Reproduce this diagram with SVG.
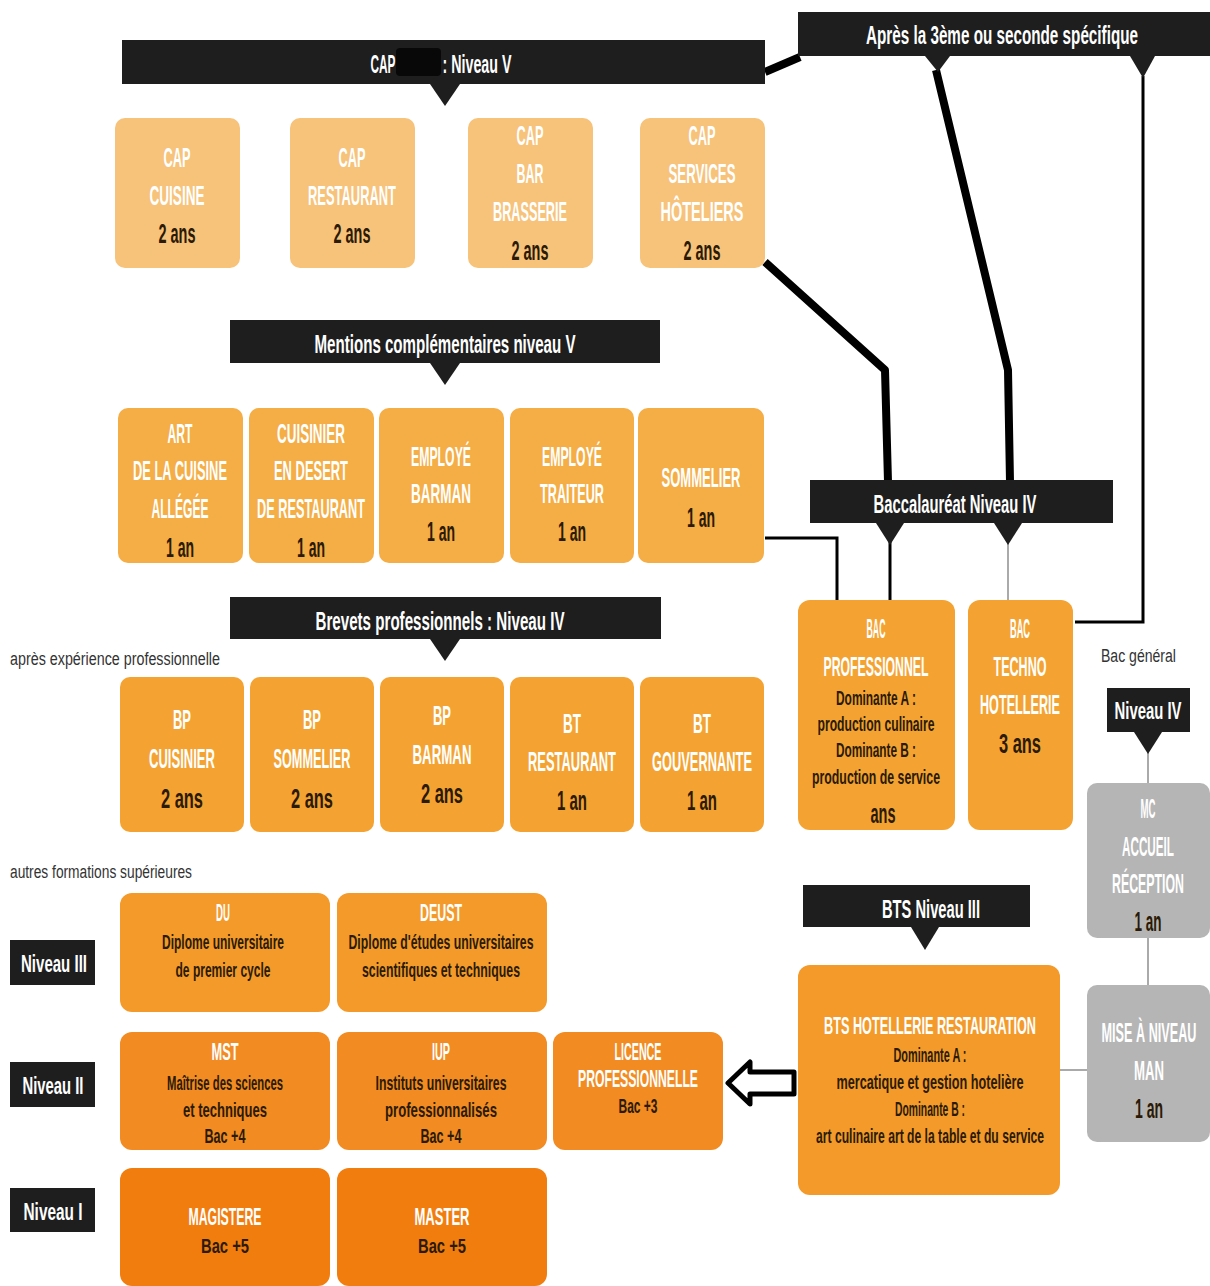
<svg xmlns="http://www.w3.org/2000/svg" width="1210" height="1286" viewBox="0 0 1210 1286">
<style>
text{font-family:"Liberation Sans",Arial,sans-serif;text-anchor:middle;font-weight:bold;}
.ban{fill:#1e1e1e}
.bt{fill:#ffffff;font-size:26px}
.nv{fill:#ffffff;font-size:23px}
.t{fill:#ffffff;font-size:28px}
.d{fill:#2b1a05;font-size:28px}
.s{fill:#2b1a05;font-size:21px}
.sw{fill:#ffffff;font-size:23px}
.note{fill:#333;font-size:18px;text-anchor:start;font-weight:normal}
.cap{fill:#f7c27a}
.mc{fill:#f5ad45}
.bp{fill:#f4a332}
.du{fill:#f39a2a}
.ms{fill:#f18b22}
.mg{fill:#f27d0f}
.gr{fill:#b5b5b5}
.thick{stroke:#000;stroke-width:8;fill:none;stroke-linejoin:round}
.thin{stroke:#000;stroke-width:3;fill:none}
.gl{stroke:#aaa;stroke-width:2;fill:none}
</style>

<g id="connectors">
  <path class="thick" d="M765 72 L800 57"/>
  <path class="thick" d="M936 70 L1008 370 L1010 482"/>
  <path class="thick" d="M765 262 L885 370 L888 482"/>
  <path class="thin" d="M1143 76 L1143 622 L1075 622"/>
  <path class="thin" d="M765 538 L837 538 L837 600"/>
  <path class="thin" d="M890 540 L890 600"/>
  <path class="gl" d="M1008 540 L1008 600"/>
  <path class="gl" d="M1148 750 L1148 784"/>
  <path class="gl" d="M1148 938 L1148 986"/>
  <path class="gl" d="M1060 1070 L1087 1070"/>
  <path d="M728 1083 L750 1062 L750 1072 L794 1072 L794 1094 L750 1094 L750 1104 Z" fill="#fff" stroke="#000" stroke-width="5" stroke-linejoin="round"/>
</g>

<g id="banner-cap">
  <rect class="ban" x="122" y="40" width="643" height="44"/>
  <path class="ban" d="M430 84 L460 84 L445 106 Z"/>
  <text class="bt" x="383" y="73" textLength="25" lengthAdjust="spacingAndGlyphs">CAP</text>
  <rect x="396" y="48" width="45" height="28" rx="4" fill="#080808"/>
  <text class="bt" x="477" y="73" textLength="69" lengthAdjust="spacingAndGlyphs">: Niveau V</text>
</g>
<g id="banner-apres">
  <rect class="ban" x="798" y="12" width="412" height="44"/>
  <path class="ban" d="M925 56 L950 56 L938 72 Z"/>
  <path class="ban" d="M1130 56 L1155 56 L1143 78 Z"/>
  <text class="bt" x="1002" y="44" textLength="272" lengthAdjust="spacingAndGlyphs">Après la 3ème ou seconde spécifique</text>
</g>

<g id="cap-cuisine"><rect class="cap" x="115" y="118" width="125" height="150" rx="10"/>
  <text class="t" x="177" y="167" textLength="27" lengthAdjust="spacingAndGlyphs">CAP</text>
  <text class="t" x="177" y="205" textLength="55" lengthAdjust="spacingAndGlyphs">CUISINE</text>
  <text class="d" x="177" y="243" textLength="37" lengthAdjust="spacingAndGlyphs">2 ans</text></g>
<g id="cap-restaurant"><rect class="cap" x="290" y="118" width="125" height="150" rx="10"/>
  <text class="t" x="352" y="167" textLength="27" lengthAdjust="spacingAndGlyphs">CAP</text>
  <text class="t" x="352" y="205" textLength="88" lengthAdjust="spacingAndGlyphs">RESTAURANT</text>
  <text class="d" x="352" y="243" textLength="37" lengthAdjust="spacingAndGlyphs">2 ans</text></g>
<g id="cap-bar"><rect class="cap" x="468" y="118" width="125" height="150" rx="10"/>
  <text class="t" x="530" y="145" textLength="27" lengthAdjust="spacingAndGlyphs">CAP</text>
  <text class="t" x="530" y="183" textLength="27" lengthAdjust="spacingAndGlyphs">BAR</text>
  <text class="t" x="530" y="221" textLength="74" lengthAdjust="spacingAndGlyphs">BRASSERIE</text>
  <text class="d" x="530" y="260" textLength="37" lengthAdjust="spacingAndGlyphs">2 ans</text></g>
<g id="cap-services"><rect class="cap" x="640" y="118" width="125" height="150" rx="10"/>
  <text class="t" x="702" y="145" textLength="27" lengthAdjust="spacingAndGlyphs">CAP</text>
  <text class="t" x="702" y="183" textLength="67" lengthAdjust="spacingAndGlyphs">SERVICES</text>
  <text class="t" x="702" y="221" textLength="83" lengthAdjust="spacingAndGlyphs">HÔTELIERS</text>
  <text class="d" x="702" y="260" textLength="37" lengthAdjust="spacingAndGlyphs">2 ans</text></g>

<g id="banner-mc">
  <rect class="ban" x="230" y="320" width="430" height="43"/>
  <path class="ban" d="M430 363 L460 363 L445 385 Z"/>
  <text class="bt" x="445" y="353" textLength="261" lengthAdjust="spacingAndGlyphs">Mentions complémentaires niveau V</text>
</g>
<g id="mc-art"><rect class="mc" x="118" y="408" width="125" height="155" rx="10"/>
  <text class="t" x="180" y="443" textLength="25" lengthAdjust="spacingAndGlyphs">ART</text>
  <text class="t" x="180" y="480" textLength="94" lengthAdjust="spacingAndGlyphs">DE LA CUISINE</text>
  <text class="t" x="180" y="518" textLength="57" lengthAdjust="spacingAndGlyphs">ALLÉGÉE</text>
  <text class="d" x="180" y="557" textLength="28" lengthAdjust="spacingAndGlyphs">1 an</text></g>
<g id="mc-cuisinier"><rect class="mc" x="249" y="408" width="125" height="155" rx="10"/>
  <text class="t" x="311" y="443" textLength="68" lengthAdjust="spacingAndGlyphs">CUISINIER</text>
  <text class="t" x="311" y="480" textLength="74" lengthAdjust="spacingAndGlyphs">EN DESERT</text>
  <text class="t" x="311" y="518" textLength="108" lengthAdjust="spacingAndGlyphs">DE RESTAURANT</text>
  <text class="d" x="311" y="557" textLength="28" lengthAdjust="spacingAndGlyphs">1 an</text></g>
<g id="mc-barman"><rect class="mc" x="379" y="408" width="125" height="155" rx="10"/>
  <text class="t" x="441" y="466" textLength="60" lengthAdjust="spacingAndGlyphs">EMPLOYÉ</text>
  <text class="t" x="441" y="503" textLength="60" lengthAdjust="spacingAndGlyphs">BARMAN</text>
  <text class="d" x="441" y="541" textLength="28" lengthAdjust="spacingAndGlyphs">1 an</text></g>
<g id="mc-traiteur"><rect class="mc" x="510" y="408" width="124" height="155" rx="10"/>
  <text class="t" x="572" y="466" textLength="60" lengthAdjust="spacingAndGlyphs">EMPLOYÉ</text>
  <text class="t" x="572" y="503" textLength="64" lengthAdjust="spacingAndGlyphs">TRAITEUR</text>
  <text class="d" x="572" y="541" textLength="28" lengthAdjust="spacingAndGlyphs">1 an</text></g>
<g id="mc-sommelier"><rect class="mc" x="638" y="408" width="126" height="155" rx="10"/>
  <text class="t" x="701" y="487" textLength="79" lengthAdjust="spacingAndGlyphs">SOMMELIER</text>
  <text class="d" x="701" y="527" textLength="28" lengthAdjust="spacingAndGlyphs">1 an</text></g>

<g id="banner-bp">
  <rect class="ban" x="230" y="597" width="431" height="42"/>
  <path class="ban" d="M430 639 L460 639 L445 661 Z"/>
  <text class="bt" x="440" y="630" textLength="249" lengthAdjust="spacingAndGlyphs">Brevets professionnels : Niveau IV</text>
</g>
<text class="note" x="10" y="665" textLength="210" lengthAdjust="spacingAndGlyphs">après expérience professionnelle</text>
<g id="bp-cuisinier"><rect class="bp" x="120" y="677" width="124" height="155" rx="10"/>
  <text class="t" x="182" y="729" textLength="18" lengthAdjust="spacingAndGlyphs">BP</text>
  <text class="t" x="182" y="768" textLength="66" lengthAdjust="spacingAndGlyphs">CUISINIER</text>
  <text class="d" x="182" y="808" textLength="42" lengthAdjust="spacingAndGlyphs">2 ans</text></g>
<g id="bp-sommelier"><rect class="bp" x="250" y="677" width="124" height="155" rx="10"/>
  <text class="t" x="312" y="729" textLength="18" lengthAdjust="spacingAndGlyphs">BP</text>
  <text class="t" x="312" y="768" textLength="77" lengthAdjust="spacingAndGlyphs">SOMMELIER</text>
  <text class="d" x="312" y="808" textLength="42" lengthAdjust="spacingAndGlyphs">2 ans</text></g>
<g id="bp-barman"><rect class="bp" x="380" y="677" width="124" height="155" rx="10"/>
  <text class="t" x="442" y="725" textLength="18" lengthAdjust="spacingAndGlyphs">BP</text>
  <text class="t" x="442" y="764" textLength="59" lengthAdjust="spacingAndGlyphs">BARMAN</text>
  <text class="d" x="442" y="803" textLength="42" lengthAdjust="spacingAndGlyphs">2 ans</text></g>
<g id="bt-restaurant"><rect class="bp" x="510" y="677" width="124" height="155" rx="10"/>
  <text class="t" x="572" y="733" textLength="18" lengthAdjust="spacingAndGlyphs">BT</text>
  <text class="t" x="572" y="771" textLength="88" lengthAdjust="spacingAndGlyphs">RESTAURANT</text>
  <text class="d" x="572" y="810" textLength="30" lengthAdjust="spacingAndGlyphs">1 an</text></g>
<g id="bt-gouvernante"><rect class="bp" x="640" y="677" width="124" height="155" rx="10"/>
  <text class="t" x="702" y="733" textLength="18" lengthAdjust="spacingAndGlyphs">BT</text>
  <text class="t" x="702" y="771" textLength="100" lengthAdjust="spacingAndGlyphs">GOUVERNANTE</text>
  <text class="d" x="702" y="810" textLength="30" lengthAdjust="spacingAndGlyphs">1 an</text></g>

<g id="banner-bac">
  <rect class="ban" x="810" y="480" width="303" height="43"/>
  <path class="ban" d="M876 523 L904 523 L890 545 Z"/>
  <path class="ban" d="M994 523 L1022 523 L1008 545 Z"/>
  <text class="bt" x="955" y="513" textLength="163" lengthAdjust="spacingAndGlyphs">Baccalauréat Niveau IV</text>
</g>
<g id="bac-pro"><rect class="bp" x="798" y="600" width="157" height="230" rx="12"/>
  <text class="t" x="876" y="638" textLength="19" lengthAdjust="spacingAndGlyphs">BAC</text>
  <text class="t" x="876" y="676" textLength="105" lengthAdjust="spacingAndGlyphs">PROFESSIONNEL</text>
  <text class="s" x="876" y="705" textLength="80" lengthAdjust="spacingAndGlyphs">Dominante A :</text>
  <text class="s" x="876" y="731" textLength="117" lengthAdjust="spacingAndGlyphs">production culinaire</text>
  <text class="s" x="876" y="757" textLength="80" lengthAdjust="spacingAndGlyphs">Dominante B :</text>
  <text class="s" x="876" y="784" textLength="128" lengthAdjust="spacingAndGlyphs">production de service</text>
  <text class="d" x="883" y="823" textLength="25" lengthAdjust="spacingAndGlyphs">ans</text></g>
<g id="bac-techno"><rect class="bp" x="968" y="600" width="105" height="230" rx="12"/>
  <text class="t" x="1020" y="638" textLength="20" lengthAdjust="spacingAndGlyphs">BAC</text>
  <text class="t" x="1020" y="676" textLength="53" lengthAdjust="spacingAndGlyphs">TECHNO</text>
  <text class="t" x="1020" y="714" textLength="80" lengthAdjust="spacingAndGlyphs">HOTELLERIE</text>
  <text class="d" x="1020" y="753" textLength="42" lengthAdjust="spacingAndGlyphs">3 ans</text></g>

<text class="note" x="1101" y="662" textLength="75" lengthAdjust="spacingAndGlyphs">Bac général</text>
<g id="niveau-iv">
  <rect class="ban" x="1107" y="688" width="83" height="44"/>
  <path class="ban" d="M1134 732 L1162 732 L1148 754 Z"/>
  <text class="nv" x="1148" y="719" textLength="67" lengthAdjust="spacingAndGlyphs">Niveau IV</text>
</g>
<g id="mc-accueil"><rect class="gr" x="1087" y="783" width="123" height="155" rx="10"/>
  <text class="t" x="1148" y="818" textLength="15" lengthAdjust="spacingAndGlyphs">MC</text>
  <text class="t" x="1148" y="856" textLength="52" lengthAdjust="spacingAndGlyphs">ACCUEIL</text>
  <text class="t" x="1148" y="893" textLength="72" lengthAdjust="spacingAndGlyphs">RÉCEPTION</text>
  <text class="d" x="1148" y="931" textLength="27" lengthAdjust="spacingAndGlyphs">1 an</text></g>
<g id="mise-a-niveau"><rect class="gr" x="1087" y="985" width="123" height="157" rx="10"/>
  <text class="t" x="1149" y="1042" textLength="95" lengthAdjust="spacingAndGlyphs">MISE À NIVEAU</text>
  <text class="t" x="1149" y="1080" textLength="30" lengthAdjust="spacingAndGlyphs">MAN</text>
  <text class="d" x="1149" y="1118" textLength="28" lengthAdjust="spacingAndGlyphs">1 an</text></g>

<g id="banner-bts">
  <rect class="ban" x="803" y="885" width="227" height="42"/>
  <path class="ban" d="M911 927 L939 927 L925 950 Z"/>
  <text class="bt" x="931" y="918" textLength="98" lengthAdjust="spacingAndGlyphs">BTS Niveau III</text>
</g>
<g id="bts"><rect class="du" x="798" y="965" width="262" height="230" rx="12"/>
  <text class="sw" x="930" y="1034" textLength="212" lengthAdjust="spacingAndGlyphs">BTS HOTELLERIE RESTAURATION</text>
  <text class="s" x="930" y="1062" textLength="73" lengthAdjust="spacingAndGlyphs">Dominante A :</text>
  <text class="s" x="930" y="1089" textLength="187" lengthAdjust="spacingAndGlyphs">mercatique et gestion hotelière</text>
  <text class="s" x="930" y="1116" textLength="70" lengthAdjust="spacingAndGlyphs">Dominante B :</text>
  <text class="s" x="930" y="1143" textLength="228" lengthAdjust="spacingAndGlyphs">art culinaire art de la table et du service</text></g>

<text class="note" x="10" y="878" textLength="182" lengthAdjust="spacingAndGlyphs">autres formations supérieures</text>
<g id="niveau-iii"><rect class="ban" x="10" y="940" width="85" height="45"/><text class="nv" x="54" y="972" textLength="66" lengthAdjust="spacingAndGlyphs">Niveau III</text></g>
<g id="niveau-ii"><rect class="ban" x="10" y="1062" width="85" height="45"/><text class="nv" x="53" y="1094" textLength="61" lengthAdjust="spacingAndGlyphs">Niveau II</text></g>
<g id="niveau-i"><rect class="ban" x="10" y="1188" width="85" height="44"/><text class="nv" x="53" y="1220" textLength="59" lengthAdjust="spacingAndGlyphs">Niveau I</text></g>

<g id="du"><rect class="du" x="120" y="893" width="210" height="119" rx="12"/>
  <text class="sw" x="223" y="921" textLength="14" lengthAdjust="spacingAndGlyphs">DU</text>
  <text class="s" x="223" y="949" textLength="122" lengthAdjust="spacingAndGlyphs">Diplome universitaire</text>
  <text class="s" x="223" y="977" textLength="95" lengthAdjust="spacingAndGlyphs">de premier cycle</text></g>
<g id="deust"><rect class="du" x="337" y="893" width="210" height="119" rx="12"/>
  <text class="sw" x="441" y="921" textLength="42" lengthAdjust="spacingAndGlyphs">DEUST</text>
  <text class="s" x="441" y="949" textLength="185" lengthAdjust="spacingAndGlyphs">Diplome d'études universitaires</text>
  <text class="s" x="441" y="977" textLength="158" lengthAdjust="spacingAndGlyphs">scientifiques et techniques</text></g>
<g id="mst"><rect class="ms" x="120" y="1032" width="210" height="118" rx="12"/>
  <text class="sw" x="225" y="1060" textLength="27" lengthAdjust="spacingAndGlyphs">MST</text>
  <text class="s" x="225" y="1090" textLength="116" lengthAdjust="spacingAndGlyphs">Maîtrise des sciences</text>
  <text class="s" x="225" y="1117" textLength="84" lengthAdjust="spacingAndGlyphs">et techniques</text>
  <text class="s" x="225" y="1143" textLength="41" lengthAdjust="spacingAndGlyphs">Bac +4</text></g>
<g id="iup"><rect class="ms" x="337" y="1032" width="210" height="118" rx="12"/>
  <text class="sw" x="441" y="1060" textLength="18" lengthAdjust="spacingAndGlyphs">IUP</text>
  <text class="s" x="441" y="1090" textLength="131" lengthAdjust="spacingAndGlyphs">Instituts universitaires</text>
  <text class="s" x="441" y="1117" textLength="112" lengthAdjust="spacingAndGlyphs">professionnalisés</text>
  <text class="s" x="441" y="1143" textLength="41" lengthAdjust="spacingAndGlyphs">Bac +4</text></g>
<g id="licence"><rect class="ms" x="553" y="1032" width="170" height="118" rx="12"/>
  <text class="sw" x="638" y="1060" textLength="47" lengthAdjust="spacingAndGlyphs">LICENCE</text>
  <text class="sw" x="638" y="1087" textLength="120" lengthAdjust="spacingAndGlyphs">PROFESSIONNELLE</text>
  <text class="s" x="638" y="1113" textLength="39" lengthAdjust="spacingAndGlyphs">Bac +3</text></g>
<g id="magistere"><rect class="mg" x="120" y="1168" width="210" height="118" rx="12"/>
  <text class="sw" x="225" y="1225" textLength="73" lengthAdjust="spacingAndGlyphs">MAGISTERE</text>
  <text class="s" x="225" y="1253" textLength="48" lengthAdjust="spacingAndGlyphs">Bac +5</text></g>
<g id="master"><rect class="mg" x="337" y="1168" width="210" height="118" rx="12"/>
  <text class="sw" x="442" y="1225" textLength="55" lengthAdjust="spacingAndGlyphs">MASTER</text>
  <text class="s" x="442" y="1253" textLength="48" lengthAdjust="spacingAndGlyphs">Bac +5</text></g>
</svg>
